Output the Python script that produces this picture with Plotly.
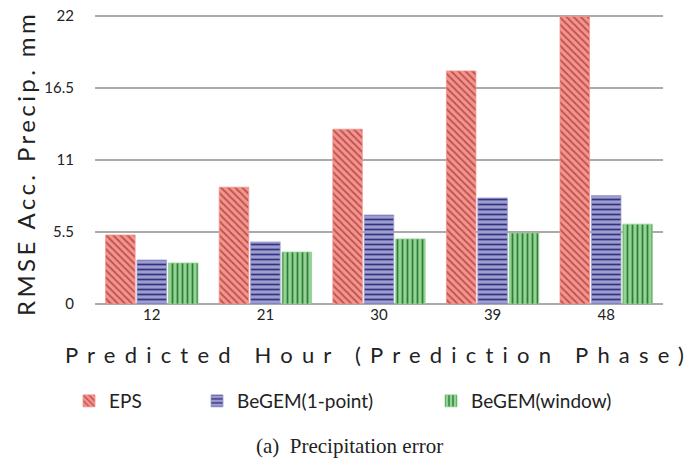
import plotly.graph_objects as go

hours = ["12", "21", "30", "39", "48"]
eps = [5.27, 8.92, 13.35, 17.8, 21.95]
begem_point = [3.36, 4.74, 6.8, 8.1, 8.28]
begem_window = [3.13, 3.97, 4.97, 5.42, 6.1]
y_ticks = [0, 5.5, 11, 16.5, 22]
y_tick_labels = ["0", "5.5", "11", "16.5", "22"]

x_title = "Predicted Hour (Prediction Phase)"
y_title = "RMSE Acc. Precip. mm"

def spaced(s, px):
    return f'<span style="letter-spacing:{px}px">{s}</span>'

FONT = "Lato"
# page has an 8px body margin; the figure fills the rest of the 692x460 window
W, H = 684, 452
L, R, T, B = 87, 29, 4, 156
PW, PH = W - L - R, H - T - B

def px_x(page_x):
    return (page_x - 8 - L) / PW

def px_y(page_y):
    return (H - B - (page_y - 8)) / PH

fig = go.Figure()
series = [
    ("EPS", eps, "#f2958e", "#c0504d", "\\", "legend", 61),
    ("BeGEM(1-point)", begem_point, "#9d9dd0", "#33337f", "-", "legend2", 189),
    ("BeGEM(window)", begem_window, "#93d393", "#2f7d3a", "|", "legend3", 423),
]
legends = {}
for name, vals, bg, fg, shape, lg, lx in series:
    fig.add_trace(go.Bar(
        x=hours, y=vals, name=name, legend=lg,
        marker=dict(color=bg, line=dict(color=bg, width=0.8),
                    pattern=dict(shape=shape, fgcolor=fg, bgcolor=bg,
                                 size=5, solidity=0.35, fillmode="replace")),
    ))
    legends[lg] = dict(xref="container", yref="container",
                       x=lx / W, xanchor="left", y=1 - 393 / H, yanchor="middle",
                       font=dict(size=19, family=FONT, color="#222222"),
                       bgcolor="rgba(0,0,0,0)")

fig.update_layout(
    width=W, height=H,
    margin=dict(l=L, r=R, t=T, b=B, autoexpand=False),
    plot_bgcolor="white", paper_bgcolor="white",
    barmode="group", bargap=0.17, bargroupgap=0.06,
    font=dict(family=FONT, color="#222222"),
    showlegend=True,
    xaxis=dict(showgrid=False, showline=False, ticks="", automargin=False,
               tickfont=dict(size=15, family=FONT),
               title=dict(text=spaced(x_title, 9.2),
                          font=dict(size=22, family=FONT), standoff=25)),
    yaxis=dict(range=[0, 22.3], tickvals=y_ticks, ticktext=y_tick_labels,
               showgrid=True, gridcolor="#aaaaaa", gridwidth=2, automargin=False,
               zeroline=True, zerolinecolor="#aaaaaa", zerolinewidth=2,
               showline=False, ticks="", ticklabelstandoff=20,
               ticklabeloverflow="allow",
               tickfont=dict(size=15, family=FONT)),
    annotations=[
        dict(text=spaced(y_title, 3.4), xref="paper", yref="paper",
             x=px_x(25), y=px_y(164), xanchor="center", yanchor="middle",
             textangle=-90, showarrow=False,
             font=dict(size=24, family=FONT, color="#222222")),
        dict(text="(a)\u2002Precipitation error", xref="paper", yref="paper",
             x=px_x(349), y=px_y(446), xanchor="center", yanchor="middle",
             showarrow=False,
             font=dict(size=21, family="Liberation Serif", color="#222222")),
    ],
    **legends,
)
fig.write_html("out.html")
